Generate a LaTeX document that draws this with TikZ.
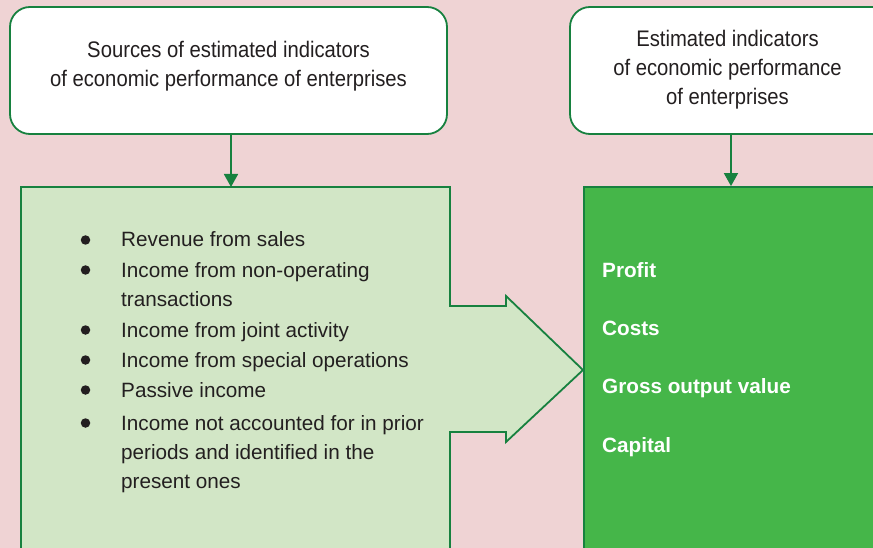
\documentclass[tikz,border=0pt]{standalone}
\usepackage{fontspec}
\setmainfont{Liberation Sans}
\newfontfamily\titlefont[FakeStretch=0.9]{Liberation Sans}
\usetikzlibrary{arrows.meta}

\definecolor{bgpink}{HTML}{EFD3D4}
\definecolor{palegreen}{HTML}{D2E6C6}
\definecolor{leafgreen}{HTML}{45B649}
\definecolor{darkgreen}{HTML}{17813F}
\definecolor{inkgray}{HTML}{231F20}

\tikzset{
  titlebox/.style={draw=darkgreen, line width=1.8pt, fill=white, rounded corners=20pt, minimum height=127pt, inner sep=0pt},
  titletext/.style={align=center, inner sep=0pt, text=inkgray, font=\titlefont\fontsize{22.5}{29}\selectfont},
  itemtext/.style={anchor=base west, inner sep=0pt, text=inkgray, font=\fontsize{20.7}{30}\selectfont},
  bulletmark/.style={circle, fill=inkgray, inner sep=0pt, minimum size=9.5pt},
  kindtext/.style={anchor=base west, inner sep=0pt, text=white, font=\bfseries\fontsize{20.7}{30}\selectfont},
  feed/.style={darkgreen, line width=1.8pt, -{Triangle[width=14pt,length=13pt]}}
}

\begin{document}
\begin{tikzpicture}[x=1pt,y=-1pt]
\useasboundingbox (0,0) rectangle (873,548);
\clip (0,0) rectangle (873,548);
\fill[bgpink] (0,0) rectangle (873,548);

% sources
\node[titlebox, minimum width=437pt] (src) at (228.5,70.5) {};
\node[titletext] (srctext) at ([yshift=4pt]src.center) {Sources of estimated indicators\\of economic performance of enterprises};
\draw[darkgreen, line width=1.8pt, fill=palegreen] (21,187) -- (450,187) -- (450,306) -- (506,306) -- (506,296) -- (583,370) -- (506,442) -- (506,432) -- (450,432) -- (450,560) -- (21,560) -- cycle;
\coordinate (srcin) at (231,187);
\draw[feed] (src.south -| srcin) -- (srcin);

\foreach \y in {247,277,337,367,397,430} {\node[bulletmark] (dot\y) at (85.5,\y-7) {};}
\foreach \y/\txt in {247/Revenue from sales, 277/Income from non-operating, 306/transactions, 337/Income from joint activity, 367/Income from special operations, 397/Passive income, 430/Income not accounted for in prior, 459/periods and identified in the, 488/present ones} {\node[itemtext] (line\y) at (121,\y) {\txt};}

% indicators
\node[titlebox, minimum width=322pt] (ind) at (731,70.5) {};
\node[titletext] (indtext) at ([xshift=-3.5pt,yshift=1pt]ind.center) {Estimated indicators\\of economic performance\\of enterprises};
\node[draw=darkgreen, line width=1.8pt, fill=leafgreen, minimum width=306pt, minimum height=373pt, inner sep=0pt] (est) at (737,373.5) {};
\draw[feed] (ind.south) -- (ind.south |- est.north);

\foreach \y/\txt in {277/Profit, 335/Costs, 393/Gross output value, 452/Capital} {\node[kindtext] (kind\y) at (602,\y) {\txt};}
\end{tikzpicture}
\end{document}
